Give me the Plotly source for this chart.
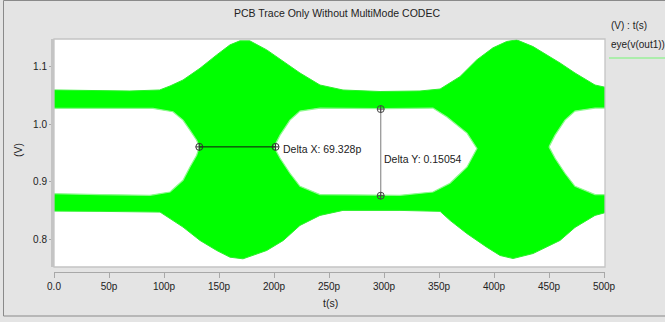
import plotly.graph_objects as go

# ---------------- data (time in ps, voltage in V) ----------------
# outer envelope of the eye: top edge
upper_t = [-1, 42, 69, 96, 105.5, 117.3, 132.7, 147.9, 160, 169, 178, 193.4, 208.5, 223.6,
           241.8, 262.7, 296.4, 332.7, 351, 369, 384.3, 399, 411.5, 420.6, 435.5, 451, 460,
           473.6, 491.8, 502]
upper_v = [1.0594, 1.0585, 1.0577, 1.0594, 1.0664, 1.0768, 1.0972, 1.1204, 1.1378, 1.1448,
           1.1448, 1.1291, 1.1087, 1.0890, 1.0681, 1.0594, 1.0568, 1.0577, 1.0611, 1.0826,
           1.1117, 1.1326, 1.1436, 1.1465, 1.1348, 1.1174, 1.1064, 1.0890, 1.0681, 1.0638]
# outer envelope: bottom edge
lower_t = [-1, 41.8, 96.4, 117.3, 132.7, 147.9, 160, 171.8, 193.4, 208.5, 223.6, 241.8, 262.7,
           314.5, 351, 360, 375.2, 393.4, 405.5, 417.3, 435.5, 460, 473.6, 491.8, 502]
lower_v = [0.8491, 0.8486, 0.8474, 0.8213, 0.7981, 0.7807, 0.7690, 0.7662, 0.7807, 0.7981,
           0.8242, 0.8416, 0.8503, 0.8503, 0.8486, 0.8330, 0.8103, 0.7864, 0.7720, 0.7667,
           0.7754, 0.7981, 0.8207, 0.8416, 0.8469]

# eye openings (closed outlines)
eye1_t = [-1, 42, 90, 108.2, 117.3, 123.6, 129.7, 132.1, 129.7, 123.6, 117.3, 105.5, 87.3, 42, -1]
eye1_v = [1.0275, 1.0272, 1.0275, 1.0216, 1.0071, 0.9897, 0.9723, 0.9606, 0.9462, 0.9258,
          0.9026, 0.8822, 0.8765, 0.8777, 0.8794]
eye2_t = [200, 205.5, 214.5, 223.6, 241.8, 299, 344.5, 357.3, 375.5, 384.5, 375.5, 360,
          344.5, 314.5, 241.8, 223.6, 214.5, 205.5, 200]
eye2_v = [0.9606, 0.9810, 1.0071, 1.0228, 1.0280, 1.0272, 1.0280, 1.0124, 0.9845, 0.9578,
          0.9258, 0.8974, 0.8822, 0.8765, 0.8777, 0.8922, 0.9148, 0.9409, 0.9606]
eye3_t = [450, 455.5, 464.5, 473.6, 491.8, 502, 502, 491.8, 473.6, 464.5, 455.5, 450]
eye3_v = [0.9606, 0.9810, 1.0071, 1.0228, 1.0280, 1.0280, 0.8777, 0.8777, 0.8922, 0.9148,
          0.9409, 0.9606]

# measurement markers
deltax_t = [132.1, 201.4]
deltax_v = [0.9606, 0.9606]
deltay_t = [297, 297]
deltay_v = [1.0263, 0.8758]
deltax_text = "Delta X: 69.328p"
deltay_text = "Delta Y: 0.15054"

xtick_vals = [0, 50, 100, 150, 200, 250, 300, 350, 400, 450, 500]
xtick_text = ["0.0", "50p", "100p", "150p", "200p", "250p", "300p", "350p", "400p", "450p", "500p"]
ytick_vals = [0.8, 0.9, 1.0, 1.1]
ytick_text = ["0.8", "0.9", "1.0", "1.1"]

title_text = "PCB Trace Only Without MultiMode CODEC"
legend_head = "(V) : t(s)"
legend_name = "eye(v(out1))"

# ---------------- figure ----------------
W, H = 665, 322
ML, MR, MT, MB = 54, 60, 39, 50
PW, PH = W - ML - MR, H - MT - MB
FONT = "Liberation Sans, Arial, sans-serif"
GREEN = "#00ff00"


def px(x):
    return (x - ML) / PW


def py(y):
    return (H - MB - y) / PH


fig = go.Figure()

outer_t = upper_t + lower_t[::-1] + [upper_t[0]]
outer_v = upper_v + lower_v[::-1] + [upper_v[0]]
fig.add_trace(go.Scatter(x=outer_t, y=outer_v, mode="lines", fill="toself",
                         fillcolor=GREEN, line=dict(color="#2cf02c", width=1),
                         hoverinfo="skip", showlegend=False))
for et, ev in [(eye1_t, eye1_v), (eye2_t, eye2_v), (eye3_t, eye3_v)]:
    fig.add_trace(go.Scatter(x=et, y=ev, mode="lines", fill="toself", fillcolor="white",
                             line=dict(color="#8dfa8d", width=1.2),
                             hoverinfo="skip", showlegend=False))

fig.add_trace(go.Scatter(x=deltax_t, y=deltax_v, mode="lines+markers",
                         line=dict(color="#111111", width=1),
                         marker=dict(symbol="circle-cross-open", size=7,
                                     color="#333333", line=dict(width=1)),
                         hoverinfo="skip", showlegend=False))
fig.add_trace(go.Scatter(x=deltay_t, y=deltay_v, mode="lines+markers",
                         line=dict(color="#999999", width=1.3),
                         marker=dict(symbol="circle-cross-open", size=7,
                                     color="#444444", line=dict(width=1)),
                         hoverinfo="skip", showlegend=False))

ann = [
    dict(text=deltax_text, x=deltax_t[1], y=deltax_v[1], xref="x", yref="y",
         xanchor="left", yanchor="middle", xshift=5, yshift=-2, showarrow=False,
         font=dict(size=10.5, color="#222222", family=FONT)),
    dict(text=deltay_text, x=deltay_t[0], y=(deltay_v[0] + deltay_v[1]) / 2, xref="x",
         yref="y", xanchor="left", yanchor="middle", xshift=1, yshift=-7, showarrow=False,
         font=dict(size=10.5, color="#222222", family=FONT)),
    dict(text=title_text, x=px(337), y=py(13), xref="paper", yref="paper",
         xanchor="center", yanchor="middle", showarrow=False,
         font=dict(size=10.5, color="#222222", family=FONT)),
    dict(text=legend_head, x=px(609), y=py(26), xref="paper", yref="paper",
         xanchor="left", yanchor="middle", showarrow=False,
         font=dict(size=10, color="#222222", family=FONT)),
    dict(text=legend_name, x=px(609), y=py(45), xref="paper", yref="paper",
         xanchor="left", yanchor="middle", showarrow=False,
         font=dict(size=10, color="#222222", family=FONT)),
    dict(text="(V)", x=px(18), y=py(150), xref="paper", yref="paper", textangle=-90,
         xanchor="center", yanchor="middle", showarrow=False,
         font=dict(size=10.5, color="#222222", family=FONT)),
    dict(text="t(s)", x=px(330), y=py(303), xref="paper", yref="paper",
         xanchor="center", yanchor="middle", showarrow=False,
         font=dict(size=10.5, color="#222222", family=FONT)),
]

shapes = [
    # outer frame
    dict(type="rect", xref="paper", yref="paper", x0=px(3.5), x1=px(700), y0=py(316),
         y1=py(0.5), line=dict(color="#8a8a8a", width=1), fillcolor="rgba(0,0,0,0)",
         layer="below"),
    # plot area border
    dict(type="rect", xref="x domain", yref="y domain", x0=0, x1=1, y0=0, y1=1,
         line=dict(color="#c4c4c4", width=1.3)),
    # legend line
    dict(type="line", xref="paper", yref="paper", x0=px(609), x1=px(668), y0=py(58),
         y1=py(58), line=dict(color="#9af09a", width=1.3)),
]

fig.update_layout(
    width=W, height=H, autosize=False,
    margin=dict(l=ML, r=MR, t=MT, b=MB, pad=0),
    paper_bgcolor="#e4e4e4", plot_bgcolor="white",
    font=dict(family=FONT, size=10, color="#222222"),
    showlegend=False,
    annotations=ann, shapes=shapes,
    xaxis=dict(range=[0, 500.9], anchor="free", position=0, showgrid=False,
               zeroline=False, showline=True, linecolor="#a8a8a8", linewidth=1,
               ticks="outside", ticklen=5, tickcolor="#a8a8a8", tickwidth=1,
               tickvals=xtick_vals, ticktext=xtick_text,
               tickfont=dict(size=10, color="#222222", family=FONT)),
    yaxis=dict(range=[0.752, 1.148], domain=[0.0215, 1], showgrid=False, zeroline=False,
               showline=True, linecolor="#c4c4c4", linewidth=3,
               ticks="outside", ticklen=2, tickcolor="#a8a8a8", tickwidth=1,
               tickvals=ytick_vals, ticktext=ytick_text,
               tickfont=dict(size=10, color="#222222", family=FONT)),
)

fig.write_html("out.html")
